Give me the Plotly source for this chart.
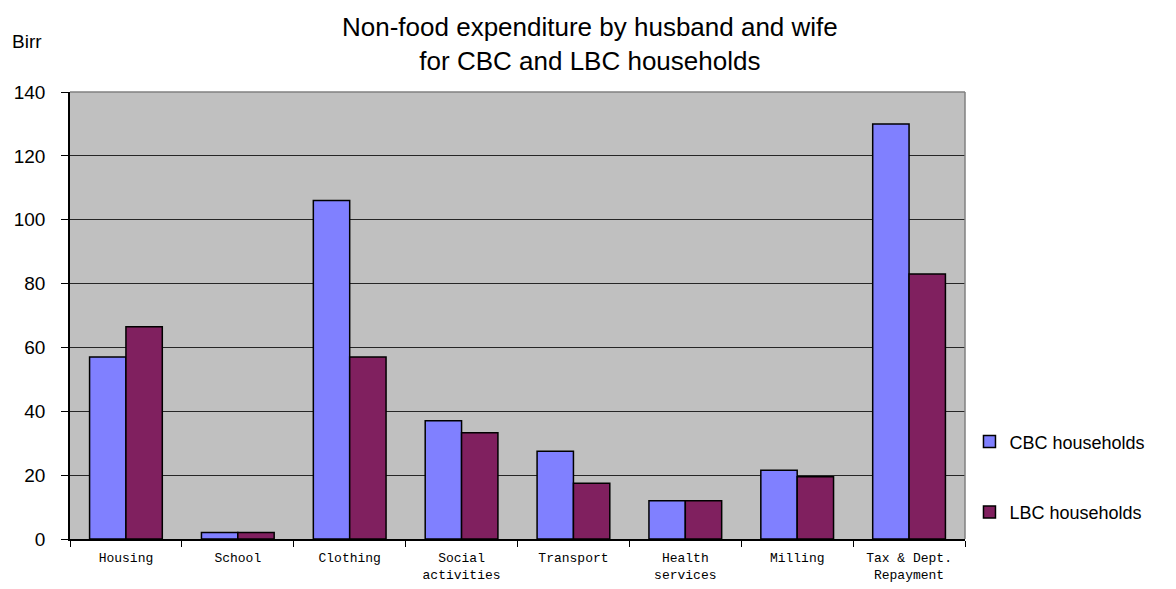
import plotly.graph_objects as go

# Non-food expenditure (Birr) per category
categories = ["Housing", "School", "Clothing", "Social<br>activities", "Transport",
              "Health<br>services", "Milling", "Tax & Dept.<br>Repayment"]
cbc_values = [57, 2, 106, 37, 27.5, 12, 21.5, 130]
lbc_values = [66.5, 2, 57, 33.3, 17.5, 12, 19.5, 83]
y_ticks = [0, 20, 40, 60, 80, 100, 120, 140]

sans = "Liberation Sans, Arial, sans-serif"
mono = "Liberation Mono, Courier New, monospace"

fig = go.Figure()
fig.add_trace(go.Bar(
    x=categories, y=cbc_values, name="CBC households", legendgroup="cbc",
    marker=dict(color="#8080FF", line=dict(color="#000000", width=1.5)),
))
fig.add_trace(go.Bar(
    x=categories, y=lbc_values, name="LBC households", legendgroup="lbc",
    marker=dict(color="#80205F", line=dict(color="#000000", width=1.5)),
))

fig.update_layout(
    width=1176, height=589,
    margin=dict(l=70, r=211, t=92, b=50),
    paper_bgcolor="#FFFFFF",
    plot_bgcolor="#C0C0C0",
    barmode="group",
    bargap=0.35,
    bargroupgap=0,
    legend=dict(
        x=1.005, xanchor="left", y=0.139, yanchor="middle",
        font=dict(family=sans, size=18, color="#000000"),
        tracegroupgap=44, bgcolor="rgba(0,0,0,0)",
    ),
    annotations=[
        dict(
            text="Non-food expenditure by husband and wife<br>for CBC and LBC households",
            xref="paper", yref="paper", x=(590 - 70) / 895, y=1.032,
            xanchor="center", yanchor="bottom", showarrow=False,
            font=dict(family=sans, size=26, color="#000000"),
        ),
        dict(
            text="Birr", xref="paper", yref="paper", x=-0.067, y=1.085,
            xanchor="left", yanchor="bottom", showarrow=False,
            font=dict(family=sans, size=19, color="#000000"),
        ),
    ],
    shapes=[
        dict(type="line", xref="paper", yref="paper", x0=0, x1=1, y0=1, y1=1,
             line=dict(color="#808080", width=1.5), layer="above"),
        dict(type="line", xref="paper", yref="paper", x0=1, x1=1, y0=0, y1=1,
             line=dict(color="#808080", width=1.5), layer="above"),
    ],
)

fig.update_xaxes(
    type="category", tickson="boundaries", ticks="outside", ticklen=6,
    tickcolor="#000000", showline=True, linecolor="#000000", linewidth=1.5,
    showgrid=False, tickfont=dict(family=mono, size=13, color="#000000"),
    tickangle=0, ticklabelstandoff=6, automargin=False,
)
fig.update_yaxes(
    range=[0, 140], tickvals=y_ticks, ticks="outside", ticklen=7,
    tickcolor="#000000", showline=True, linecolor="#000000", linewidth=1.5,
    showgrid=True, gridcolor="#262626", gridwidth=1, zeroline=False,
    tickfont=dict(family=sans, size=19, color="#000000"),
    ticklabelstandoff=12, automargin=False,
)

fig.write_html("out.html")
